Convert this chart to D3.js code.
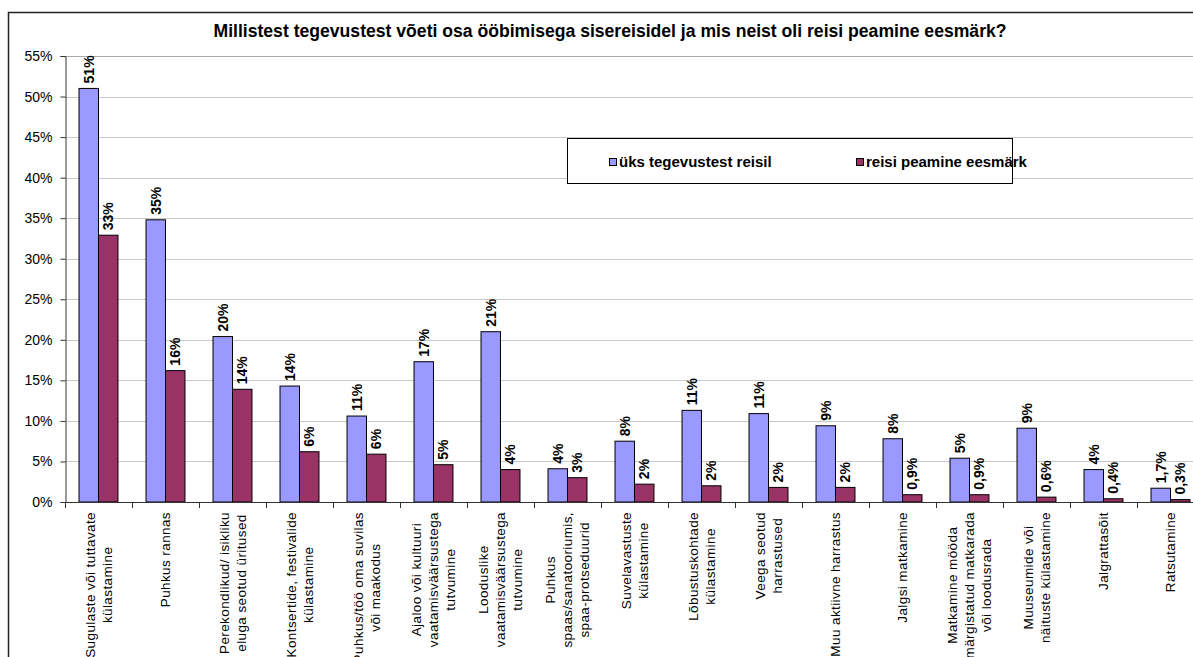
<!DOCTYPE html>
<html>
<head>
<meta charset="utf-8">
<script src="https://cdn.jsdelivr.net/npm/d3@7"></script>
<style>
  body { margin: 0; background: #fff; }
  svg { display: block; font-family: "Liberation Sans", Arial, sans-serif; }
</style>
</head>
<body>
<div id="chart"></div>
<script>
// chart data
var title = "Millistest tegevustest võeti osa ööbimisega sisereisidel ja mis neist oli reisi peamine eesmärk?"

var categories = [
  ["Sugulaste või tuttavate", "külastamine"],
  ["Puhkus rannas"],
  ["Perekondlikud/ isikliku", "eluga seotud üritused"],
  ["Kontsertide, festivalide", "külastamine"],
  ["Puhkus/töö oma suvilas", "või maakodus"],
  ["Ajaloo või kultuuri", "vaatamisväärsustega", "tutvumine"],
  ["Looduslike", "vaatamisväärsustega", "tutvumine"],
  ["Puhkus", "spaas/sanatooriumis,", "spaa-protseduurid"],
  ["Suvelavastuste", "külastamine"],
  ["Lõbustuskohtade", "külastamine"],
  ["Veega seotud", "harrastused"],
  ["Muu aktiivne harrastus"],
  ["Jalgsi matkamine"],
  ["Matkamine mööda", "märgistatud matkarada", "või loodusrada"],
  ["Muuseumide või", "näituste külastamine"],
  ["Jalgrattasõit"],
  ["Ratsutamine"]
]

var seriesNames = ["üks tegevustest reisil", "reisi peamine eesmärk"]
var seriesColors = ["#9999FF", "#993366"]

var anyActivity = [51.0, 34.8, 20.4, 14.3, 10.6, 17.3, 21.0, 4.1, 7.5, 11.3, 10.9, 9.4, 7.8, 5.4, 9.1, 4.0, 1.7]
var mainPurpose = [32.9, 16.2, 13.9, 6.2, 5.9, 4.6, 4.0, 3.0, 2.2, 2.0, 1.8, 1.8, 0.9, 0.9, 0.6, 0.4, 0.3]

var anyLabels = ["51%", "35%", "20%", "14%", "11%", "17%", "21%", "4%", "8%", "11%", "11%", "9%", "8%", "5%", "9%", "4%", "1,7%"]
var mainLabels = ["33%", "16%", "14%", "6%", "6%", "5%", "4%", "3%", "2%", "2%", "2%", "2%", "0,9%", "0,9%", "0,6%", "0,4%", "0,3%"]

var yTicks = [0, 5, 10, 15, 20, 25, 30, 35, 40, 45, 50, 55]

var W = 1193, H = 657
var plot = {left: 65, top: 56, bottom: 502, step: 67}

var svg = d3.select("#chart").append("svg")
  .attr("width", W).attr("height", H)

// outer frame (runs past the right/bottom edge like the original crop)
svg.append("rect")
  .attr("x", 8.5).attr("y", 12.5)
  .attr("width", W + 20).attr("height", H + 20)
  .attr("fill", "none").attr("stroke", "#222").attr("stroke-width", 1.5)

svg.append("text")
  .attr("x", 610).attr("y", 37)
  .attr("text-anchor", "middle")
  .style("font-size", "17.6px").style("font-weight", "bold")
  .text(title)

var idx = d3.range(categories.length)

var x = d3.scaleBand()
  .domain(idx)
  .range([plot.left, plot.left + plot.step * categories.length])
  .paddingInner(0).paddingOuter(0)

var xs = d3.scaleBand()
  .domain([0, 1])
  .range([0, x.bandwidth()])
  .paddingInner(0).paddingOuter(0.72)

var y = d3.scaleLinear().domain([0, 55]).range([plot.bottom, plot.top])

// gridlines
svg.append("g")
  .selectAll("line")
  .data(yTicks.filter(function(d) { return d > 0 }))
  .enter().append("line")
  .attr("x1", plot.left).attr("x2", W)
  .attr("y1", function(d) { return Math.round(y(d)) + 0.5 })
  .attr("y2", function(d) { return Math.round(y(d)) + 0.5 })
  .attr("stroke", function(d) { return d == 55 ? "#aaa" : "#c8c8c8" })
  .attr("stroke-width", 1)

// y axis
var yAxis = svg.append("g")
  .attr("transform", "translate(" + (plot.left + 0.5) + ",0)")
  .call(d3.axisLeft(y).tickValues(yTicks).tickSize(5).tickPadding(8)
    .tickFormat(function(d) { return d + "%" }))
yAxis.selectAll("text").style("font-size", "14px").attr("fill", "#000")
  .style("font-family", "'Liberation Sans', Arial, sans-serif")
yAxis.selectAll("line").attr("stroke", "#333")
yAxis.select(".domain").attr("stroke", "#333")

// bars
var rows = idx.map(function(i) {
  return [
    {i: i, s: 0, v: anyActivity[i], label: anyLabels[i]},
    {i: i, s: 1, v: mainPurpose[i], label: mainLabels[i]}
  ]
})

var groups = svg.append("g").selectAll("g")
  .data(rows).enter().append("g")
  .attr("transform", function(d, i) { return "translate(" + x(i) + ",0)" })

groups.selectAll("rect")
  .data(function(d) { return d }).enter().append("rect")
  .attr("x", function(d) { return xs(d.s) })
  .attr("y", function(d) { return y(d.v) })
  .attr("width", xs.bandwidth())
  .attr("height", function(d) { return plot.bottom - y(d.v) })
  .attr("fill", function(d) { return seriesColors[d.s] })
  .attr("stroke", "#000").attr("stroke-width", 1)

groups.selectAll("text")
  .data(function(d) { return d }).enter().append("text")
  .attr("transform", function(d) {
    return "translate(" + (xs(d.s) + xs.bandwidth() / 2 + 5) + "," + (y(d.v) - 5) + ") rotate(-90)"
  })
  .style("font-size", "14px").style("font-weight", "bold")
  .text(function(d) { return d.label })

// x axis
var xAxis = svg.append("g")
svg.append("line")
  .attr("x1", plot.left).attr("x2", W)
  .attr("y1", plot.bottom + 0.5).attr("y2", plot.bottom + 0.5)
  .attr("stroke", "#333")
xAxis.selectAll("line")
  .data(d3.range(categories.length + 1)).enter().append("line")
  .attr("x1", function(d) { return Math.round(plot.left + d * x.step()) + 0.5 })
  .attr("x2", function(d) { return Math.round(plot.left + d * x.step()) + 0.5 })
  .attr("y1", plot.bottom).attr("y2", plot.bottom + 6)
  .attr("stroke", "#333")

// category labels, rotated, lines centred on each other
var lineH = 17
var labelTop = 512
categories.forEach(function(lines, i) {
  var cx = x(i) + x.bandwidth() / 2
  var g = svg.append("g")
  var texts = lines.map(function(l) {
    return g.append("text").style("font-size", "13.5px").style("letter-spacing", "0.4px")
      .attr("text-anchor", "middle").text(l)
  })
  var maxLen = d3.max(texts, function(t) { return t.node().getComputedTextLength() })
  texts.forEach(function(t, k) {
    var tx = cx + (k - (lines.length - 1) / 2) * lineH + 4.8
    t.attr("transform", "translate(" + tx + "," + (labelTop + maxLen / 2) + ") rotate(-90)")
  })
})

// legend
var legend = svg.append("g")
legend.append("rect")
  .attr("x", 567.5).attr("y", 138.5).attr("width", 445).attr("height", 45)
  .attr("fill", "#fff").attr("stroke", "#000").attr("stroke-width", 1)
var legendX = [609, 856]
seriesNames.forEach(function(name, i) {
  legend.append("rect")
    .attr("x", legendX[i] + 0.5).attr("y", 158.5).attr("width", 7).attr("height", 7)
    .attr("fill", seriesColors[i]).attr("stroke", "#000")
  legend.append("text")
    .attr("x", legendX[i] + 10).attr("y", 166.5)
    .style("font-size", "15px").style("font-weight", "bold")
    .text(name)
})
</script>
</body>
</html>
